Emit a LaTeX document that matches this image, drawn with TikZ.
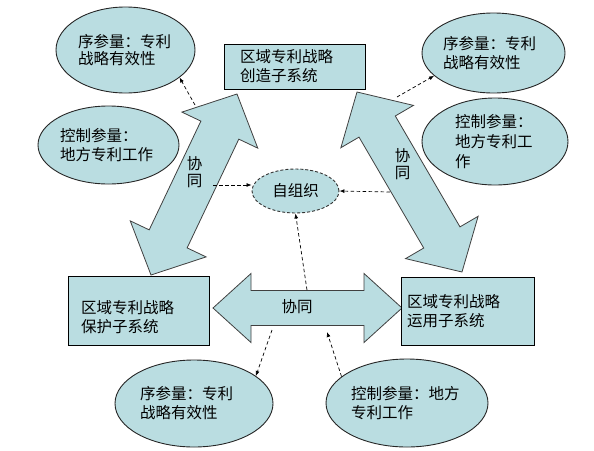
\documentclass[tikz,border=0pt]{standalone}
\usepackage{fontspec}
\setmainfont{Noto Sans CJK SC}
\usetikzlibrary{calc,arrows.meta,shapes.geometric}
\definecolor{fillc}{RGB}{186,221,225}
\newcommand{\mydblarrow}[5]{%
  \coordinate (h1) at ($(#1)!#3!(#2)$);
  \coordinate (h2) at ($(#2)!#3!(#1)$);
  \draw[bigarrow] (#1) -- ($(h1)!#4!90:(#2)$) -- ($(h1)!#5!90:(#2)$)
    -- ($(h2)!#5!-90:(#1)$) -- ($(h2)!#4!-90:(#1)$) -- (#2)
    -- ($(h2)!#4!90:(#1)$) -- ($(h2)!#5!90:(#1)$)
    -- ($(h1)!#5!-90:(#2)$) -- ($(h1)!#4!-90:(#2)$) -- cycle;}
\begin{document}
\begin{tikzpicture}[x=1pt,y=-1pt,
  every node/.style={font=\fontsize{15.5}{19}\selectfont},
  sysbox/.style={draw=black, line width=1pt, fill=fillc, rectangle, align=left, inner sep=0pt},
  param/.style={draw=black!85, line width=0.9pt, fill=fillc, ellipse, inner sep=0pt, align=left},
  selforg/.style={draw=black!80, line width=0.9pt, fill=fillc, ellipse, inner sep=0pt, dash pattern=on 3pt off 2pt},
  bigarrow/.style={draw=black!75, line width=0.8pt, fill=fillc, line join=miter},
  dashlink/.style={draw=black, line width=0.7pt, dash pattern=on 3.5pt off 2.5pt, -{Latex[length=5pt,width=4pt]}},
  xtlabel/.style={align=center, inner sep=0pt, font=\fontsize{15.5}{17}\selectfont}
]
\useasboundingbox (0,0) rectangle (594,450);

% big double arrows
\coordinate (LA1) at (237,94);
\coordinate (LA2) at (151,275);
\coordinate (RA1) at (357,92);
\coordinate (RA2) at (462,272);
\coordinate (HA1) at (213,308);
\coordinate (HA2) at (402,308);
\mydblarrow{LA1}{LA2}{40pt}{42pt}{21pt}
\mydblarrow{RA1}{RA2}{40pt}{42pt}{21pt}
\mydblarrow{HA1}{HA2}{38pt}{34.5pt}{17.5pt}

\node[xtlabel] (xtL) at (194.5,172) {协\\同};
\node[xtlabel] (xtR) at (402.5,164) {协\\同};
\node[xtlabel] (xtH) at (297,307) {协同};

% subsystems
\node[sysbox, minimum width=141pt, minimum height=45pt, text width=109pt] (create) at (294.5,66.5) {区域专利战略\\创造子系统};
\node[sysbox, minimum width=141pt, minimum height=69pt, text width=115pt] (protect) at (138.5,310.5) {\rule{0pt}{26pt}区域专利战略\\保护子系统};
\node[sysbox, minimum width=133pt, minimum height=68pt, text width=121pt] (apply) at (467.5,311) {区域专利战略\\运用子系统};

% parameter ellipses
\node[param, minimum width=139pt, minimum height=86pt, text width=95pt, font=\fontsize{15.5}{17.5}\selectfont] (ellTL) at (125.5,50) {序参量：专利\\战略有效性};
\node[param, minimum width=141pt, minimum height=78pt, text width=97pt] (ellL) at (108.5,145) {控制参量：\\地方专利工作};
\node[param, minimum width=143pt, minimum height=80pt, text width=101pt] (ellTR) at (493.5,53) {序参量：专利\\战略有效性};
\node[param, minimum width=146pt, minimum height=87pt, text width=80pt, font=\fontsize{15.5}{20}\selectfont] (ellR) at (495,141.5) {控制参量：\\地方专利工\\作};
\node[param, minimum width=158pt, minimum height=87pt, text width=108pt] (ellBL) at (194,403.5) {序参量：专利\\战略有效性};
\node[param, minimum width=162pt, minimum height=88pt, text width=112pt] (ellBR) at (407,403) {控制参量：地方\\专利工作};

% self-organisation
\node[selforg, minimum width=87pt, minimum height=44pt] (ellZ) at (295.5,191) {自组织};

% dashed links
\coordinate (d1) at (195,105);
\coordinate (d2) at (397,97);
\coordinate (d3) at (213,185);
\coordinate (d4) at (390,192);
\coordinate (d5) at (307,290);
\coordinate (d6) at (272,330);
\coordinate (d7) at (327,332);
\draw[dashlink] (d1) -- (ellTL.-27);
\draw[dashlink] (d2) -- (ellTR.-159);
\draw[dashlink] (d3) -- (d3 -| ellZ.west);
\draw[dashlink] (d4) -- (ellZ.east);
\draw[dashlink] (d5) -- (ellZ.south);
\draw[dashlink] (d6) -- (ellBL.24);
\draw[dashlink] (ellBR.158) -- (d7);
\end{tikzpicture}
\end{document}
